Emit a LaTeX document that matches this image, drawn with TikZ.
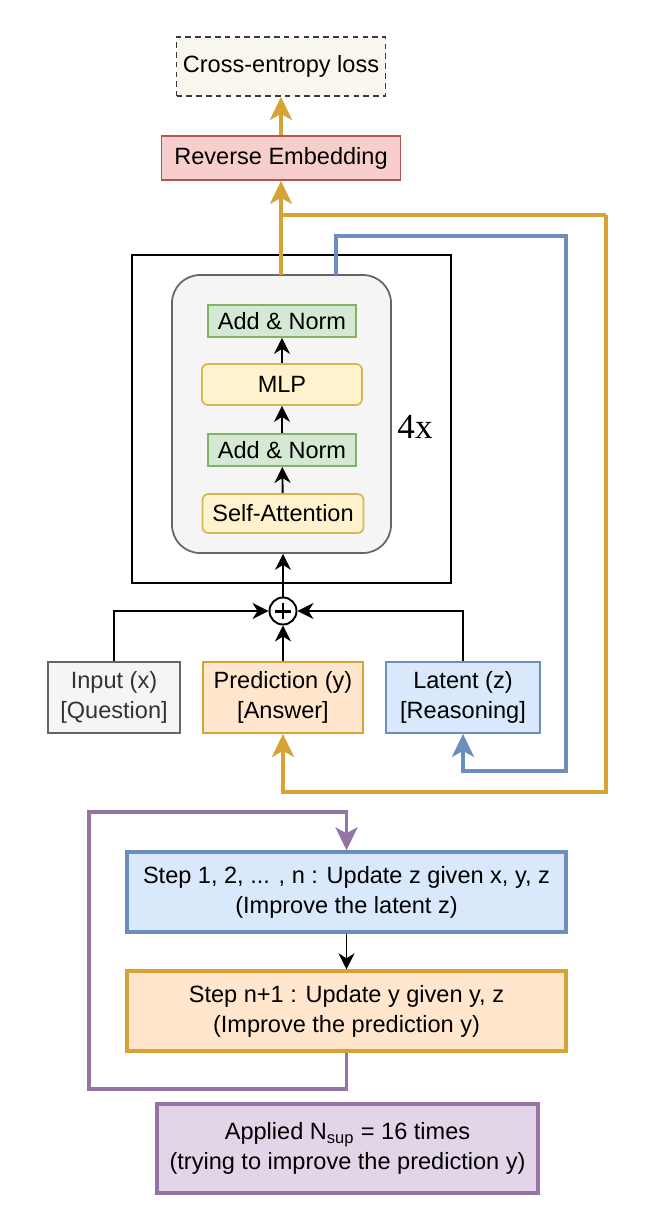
\documentclass[tikz,border=0pt]{standalone}
\usepackage{fontspec}
\setmainfont{Liberation Sans}
\newfontfamily\numfont{Liberation Serif}
\usetikzlibrary{arrows.meta}
\newlength\pxu
\setlength\pxu{0.02cm}
\definecolor{goldline}{RGB}{214,163,54}
\definecolor{blueline}{HTML}{6C8EBF}
\definecolor{purpline}{HTML}{9673A6}
\definecolor{redfill}{HTML}{F8CECC}
\definecolor{redline}{HTML}{B85450}
\definecolor{greenfill}{HTML}{D5E8D4}
\definecolor{greenline}{HTML}{82B366}
\definecolor{yellowfill}{HTML}{FFF2CC}
\definecolor{yellowline}{HTML}{D6B656}
\definecolor{grayfill}{HTML}{F5F5F5}
\definecolor{grayline}{HTML}{666666}
\definecolor{graytext}{HTML}{333333}
\definecolor{creamfill}{HTML}{F9F7ED}
\definecolor{darkline}{HTML}{36393D}
\definecolor{orangefill}{HTML}{FFE6CC}
\definecolor{bluefill}{HTML}{DAE8FC}
\definecolor{purpfill}{HTML}{E1D5E7}
\begin{document}
\begin{tikzpicture}[x=0.02cm,y=-0.02cm,
  font=\fontsize{13.4pt}{17pt}\selectfont,
  box/.style={draw, line width=1pt, inner sep=0pt, align=center},
  thinarrow/.style={draw=black, line width=1.1pt,
    -{Stealth[length=0.32cm,width=0.32cm,inset=0.1cm]}},
  thickarrow/.style={line width=2.2pt,
    -{Stealth[length=0.46cm,width=0.44cm,inset=0.12cm]}},
  goldarrow/.style={draw=goldline, thickarrow},
  bluearrow/.style={draw=blueline, thickarrow},
  purparrow/.style={draw=purpline, thickarrow},
]
\useasboundingbox (0,0) rectangle (648,1232);

% loss and output embedding
\node[box, draw=darkline, dash pattern=on 3.2pt off 2.4pt, fill=creamfill, minimum width=209\pxu, minimum height=59\pxu] (ce) at (281,66.5) {Cross-entropy loss};
\node[box, draw=redline, fill=redfill, minimum width=239\pxu, minimum height=44\pxu] (rev) at (281,158) {Reverse Embedding};

% repeated transformer block
\node[box, line width=1.1pt, minimum width=319\pxu, minimum height=328\pxu] (outer) at (291.5,419) {};
\node[box, draw=grayline, fill=grayfill, rounded corners=28\pxu, minimum width=219\pxu, minimum height=278\pxu] (inner) at (281.5,414) {};
\node[box, draw=greenline, fill=greenfill, minimum width=148\pxu, minimum height=32\pxu] (an1) at (282,321) {Add \& Norm};
\node[box, draw=yellowline, fill=yellowfill, rounded corners=6\pxu, minimum width=160\pxu, minimum height=41\pxu] (mlp) at (282,384.5) {MLP};
\node[box, draw=greenline, fill=greenfill, minimum width=148\pxu, minimum height=32\pxu] (an2) at (282,450) {Add \& Norm};
\node[box, draw=yellowline, fill=yellowfill, rounded corners=6\pxu, minimum width=161\pxu, minimum height=39\pxu] (sa) at (283,513.5) {Self-Attention};
\node[font=\numfont\fontsize{20pt}{22pt}\selectfont] (rep) at (415,427) {4x};

\draw[thinarrow] (sa) -- (an2);
\draw[thinarrow] (an2) -- (mlp);
\draw[thinarrow] (mlp) -- (an1);

% summation of the three inputs
\node[draw, circle, line width=1.1pt, fill=white, minimum size=27\pxu, inner sep=0pt] (plus) at (283,611) {};
\draw[line width=1.7pt] ([xshift=-8\pxu]plus.center) -- ([xshift=8\pxu]plus.center);
\draw[line width=1.7pt] ([yshift=-8\pxu]plus.center) -- ([yshift=8\pxu]plus.center);

\node[box, draw=grayline, fill=grayfill, text=graytext, minimum width=132\pxu, minimum height=71\pxu] (inp) at (114,697.5) {Input (x)\\{[Question]}};
\node[box, draw=goldline, fill=orangefill, minimum width=160\pxu, minimum height=71\pxu] (pred) at (283,697.5) {Prediction (y)\\{[Answer]}};
\node[box, draw=blueline, fill=bluefill, minimum width=154\pxu, minimum height=71\pxu] (lat) at (463,697.5) {Latent (z)\\{[Reasoning]}};

\draw[thinarrow] (plus) -- (plus |- inner.south);
\draw[thinarrow] (inp.north) |- (plus.west);
\draw[thinarrow] (lat.north) |- (plus.east);
\draw[thinarrow] (pred.north) -- (plus.south);

% feedback loops for y and z
\coordinate (ys) at (281,275);
\coordinate (br) at (281,215);
\coordinate (gR) at (606,215);
\coordinate (gB) at (606,792);
\coordinate (zs) at (336,275);
\coordinate (bT) at (566,236);
\coordinate (bB) at (566,771);

\draw[goldarrow] (ys) -- (ys |- rev.south);
\draw[goldarrow] (rev.north) -- (ce.south);
\draw[draw=goldline, line width=2.2pt, line join=miter] (br) -- (gR);
\draw[goldarrow, line join=miter] (gR) -- (gB) -| (pred.south);
\draw[bluearrow, line join=miter] (zs) |- (bT) -- (bB) -| (lat.south);

% recursion schedule
\node[box, line width=1.9pt, draw=blueline, fill=bluefill, minimum width=439\pxu, minimum height=80\pxu] (s1) at (346.5,892) {Step 1, 2, ... , n : Update z given x, y, z\\(Improve the latent z)};
\node[box, line width=1.9pt, draw=goldline, fill=orangefill, minimum width=439\pxu, minimum height=80\pxu] (s2) at (346.5,1011) {Step n+1 : Update y given y, z\\(Improve the prediction y)};
\node[box, line width=1.9pt, draw=purpline, fill=purpfill, minimum width=381\pxu, minimum height=89\pxu] (app) at (347.5,1148.5) {Applied N\textsubscript{sup} = 16 times\\(trying to improve the prediction y)};

\draw[thinarrow] (s1) -- (s2);
\coordinate (pB) at (89,1089);
\coordinate (pT) at (89,812);
\draw[purparrow, line join=miter] (s2.south) |- (pB) -- (pT) -| (s1.north);
\end{tikzpicture}
\end{document}
